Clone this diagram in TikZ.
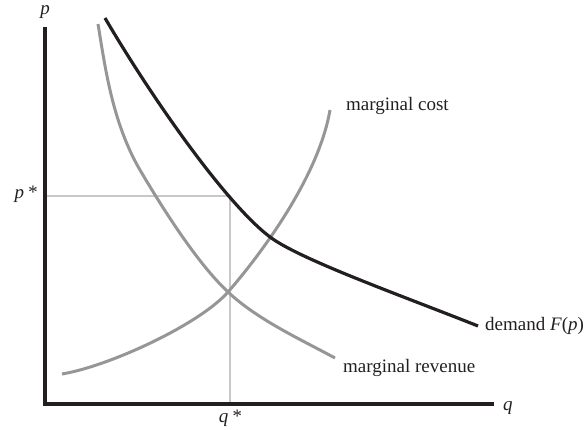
\documentclass[tikz,border=0pt]{standalone}
\usepackage{fontspec}
\setmainfont{Liberation Serif}
\begin{document}
\begin{tikzpicture}[x=1pt,y=-1pt,
  axis/.style={line width=4pt,color=axisc},
  guide/.style={line width=1.4pt,color=guidec},
  mcurve/.style={line width=3pt,color=curvec},
  dcurve/.style={line width=3.2pt,color=axisc},
  lbl/.style={font=\fontsize{19}{21}\selectfont,inner sep=0pt,text=axisc}]
\definecolor{axisc}{RGB}{35,31,32}
\definecolor{guidec}{RGB}{200,200,200}
\definecolor{curvec}{RGB}{150,150,152}
\useasboundingbox (0,0) rectangle (586,430);
% axes
\coordinate (top) at (45,27);
\coordinate (origin) at (45,404);
\coordinate (qend) at (494,404);
\draw[axis] (top) -- (origin) -- (qend);
\node[lbl,font=\fontsize{19}{21}\selectfont\itshape] (plabel) at (45,12) {p};
\node[lbl,font=\fontsize{19}{21}\selectfont\itshape,anchor=west] (qlabel) at (503,408) {q};
% guides
\coordinate (pstar) at (47,196);
\coordinate (eq) at (230,196);
\coordinate (qstar) at (230,402);
\draw[guide] (pstar) -- (eq) -- (qstar);
\node[lbl,anchor=east] (pslabel) at (37,194) {\itshape p\,*};
\node[lbl] (qslabel) at (230,418) {\itshape q\,*};
% marginal revenue
\coordinate (mrstart) at (98,24);
\coordinate (mrend) at (335,358);
\draw[mcurve] (mrstart) .. controls (105,66) and (112,122) .. (140,170)
  .. controls (160,204) and (196,262) .. (228,292)
  .. controls (258,320) and (300,339) .. (mrend);
\node[lbl,anchor=west] (mrlabel) at (343,368) {marginal revenue};
% marginal cost
\coordinate (mcstart) at (62,374);
\coordinate (mcend) at (330,110);
\draw[mcurve] (mcstart) .. controls (110,366) and (200,324) .. (228,292)
  .. controls (256,260) and (318,180) .. (mcend);
\node[lbl,anchor=west] (mclabel) at (346,106) {marginal cost};
% demand
\coordinate (dstart) at (105,18);
\coordinate (dend) at (478,326);
\draw[dcurve] (dstart) .. controls (150,95) and (225,203) .. (270,237)
  .. controls (300,259.5) and (400,295) .. (dend);
\node[lbl,anchor=west] (dlabel) at (485,326) {demand \textit{F}(\textit{p})};
\end{tikzpicture}
\end{document}
